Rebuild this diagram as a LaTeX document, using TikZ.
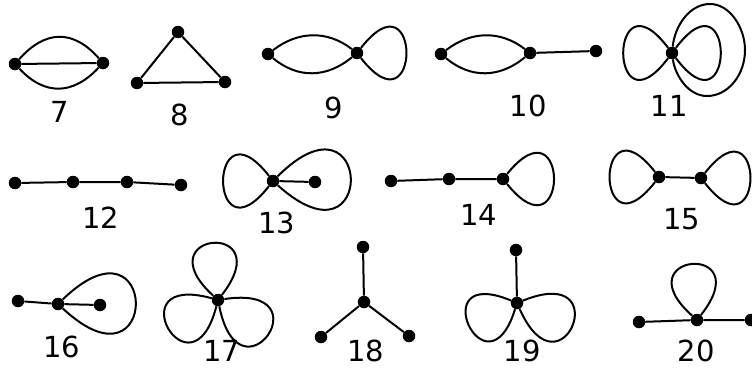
\documentclass[tikz,border=0pt]{standalone}
\usepackage{fontspec}
\setmainfont{DejaVu Sans}
\newcommand\mkloop[4]{\draw[edge] (#1) .. controls +(#2:#4) and +(#3:#4) .. (#1);}
\begin{document}
\begin{tikzpicture}[x=1pt,y=1pt,
  vtx/.style={circle,fill=black,inner sep=0pt,minimum size=12.5pt},
  edge/.style={line width=2pt,black},
  lbl/.style={font=\fontsize{29}{34}\selectfont,inner sep=0pt}]
\useasboundingbox (0,0) rectangle (752,368);
% ---- 7
\node[vtx] (a7) at (15,304) {};
\node[vtx] (b7) at (103,305) {};
\draw[edge] (a7) .. controls +(30,34) and +(-30,34) .. (b7);
\draw[edge] (a7) .. controls +(30,-32) and +(-30,-32) .. (b7);
\draw[edge] (a7) -- (b7);
\node[lbl] (l7) at (60,256) {7};
% ---- 8
\node[vtx] (t8) at (178,336) {};
\node[vtx] (l8) at (137,285) {};
\node[vtx] (r8) at (225,286) {};
\draw[edge] (t8) -- (l8) -- (r8) -- (t8);
\node[lbl] (n8) at (180,253) {8};
% ---- 9
\node[vtx] (a9) at (268,314) {};
\node[vtx] (b9) at (357,315) {};
\draw[edge] (a9) .. controls +(30,23) and +(-30,23) .. (b9);
\draw[edge] (a9) .. controls +(30,-25) and +(-30,-25) .. (b9);
\mkloop{b9}{52}{-52}{105}
\node[lbl] (l9) at (334,260) {9};
% ---- 10
\node[vtx] (a10) at (441,314) {};
\node[vtx] (b10) at (530,315) {};
\node[vtx] (c10) at (596,317) {};
\draw[edge] (a10) .. controls +(30,23) and +(-30,23) .. (b10);
\draw[edge] (a10) .. controls +(30,-25) and +(-30,-25) .. (b10);
\draw[edge] (b10) -- (c10);
\node[lbl] (l10) at (528,262) {10};
% ---- 11
\node[vtx] (v11) at (672,315) {};
\mkloop{v11}{233}{127}{106}
\mkloop{v11}{53}{-53}{106}
\draw[edge] (v11) .. controls (675,343) and (690,364) .. (710,364)
  .. controls (730,364) and (745,340) .. (745,318)
  .. controls (745,293) and (728,272) .. (707,272)
  .. controls (688,272) and (675,293) .. (v11);
\node[lbl] (l11) at (669,262) {11};
% ---- 12
\node[vtx] (a12) at (15,185) {};
\node[vtx] (b12) at (73,186) {};
\node[vtx] (c12) at (127,186) {};
\node[vtx] (d12) at (181,183) {};
\draw[edge] (a12) -- (b12) -- (c12) -- (d12);
\node[lbl] (l12) at (101,150) {12};
% ---- 13
\node[vtx] (v13) at (273,187) {};
\node[vtx] (w13) at (315,186) {};
\mkloop{v13}{232}{128}{106}
\mkloop{v13}{45}{-42}{141}
\draw[edge] (v13) -- (w13);
\node[lbl] (l13) at (277,145) {13};
% ---- 14
\node[vtx] (a14) at (391,187) {};
\node[vtx] (b14) at (449,189) {};
\node[vtx] (c14) at (503,189) {};
\draw[edge] (a14) -- (b14) -- (c14);
\mkloop{c14}{51}{-51}{106}
\node[lbl] (l14) at (478.5,153) {14};
% ---- 15
\node[vtx] (a15) at (659,191) {};
\node[vtx] (b15) at (701,190) {};
\draw[edge] (a15) -- (b15);
\mkloop{a15}{232}{128}{105}
\mkloop{b15}{52}{-52}{105}
\node[lbl] (l15) at (681.5,149) {15};
% ---- 16
\node[vtx] (a16) at (18,67) {};
\node[vtx] (b16) at (58,64) {};
\node[vtx] (c16) at (100,63) {};
\draw[edge] (a16) -- (b16) -- (c16);
\mkloop{b16}{44}{-43}{141}
\node[lbl] (l16) at (62,21) {16};
% ---- 17
\node[vtx] (v17) at (218,68) {};
\mkloop{v17}{137.7}{52.3}{102}
\mkloop{v17}{255.5}{164.5}{107}
\mkloop{v17}{8.5}{-78.5}{110}
\node[lbl] (l17) at (222,17.5) {17};
% ---- 18
\node[vtx] (t18) at (363,121) {};
\node[vtx] (c18) at (364,66) {};
\node[vtx] (l18) at (321,31) {};
\node[vtx] (r18) at (409,32) {};
\draw[edge] (c18) -- (t18);
\draw[edge] (c18) -- (l18);
\draw[edge] (c18) -- (r18);
\node[lbl] (n18) at (366,17) {18};
% ---- 19
\node[vtx] (t19) at (516,118) {};
\node[vtx] (c19) at (517,65) {};
\draw[edge] (c19) -- (t19);
\mkloop{c19}{252.6}{157.4}{103}
\mkloop{c19}{22}{-66}{109}
\node[lbl] (l19) at (522,17) {19};
% ---- 20
\node[vtx] (l20) at (639,46) {};
\node[vtx] (c20) at (697,48) {};
\node[vtx] (r20) at (751,48) {};
\draw[edge] (l20) -- (c20) -- (r20);
\mkloop{c20}{138.3}{51.7}{101}
\node[lbl] (n20) at (696,17.5) {20};
\end{tikzpicture}
\end{document}
